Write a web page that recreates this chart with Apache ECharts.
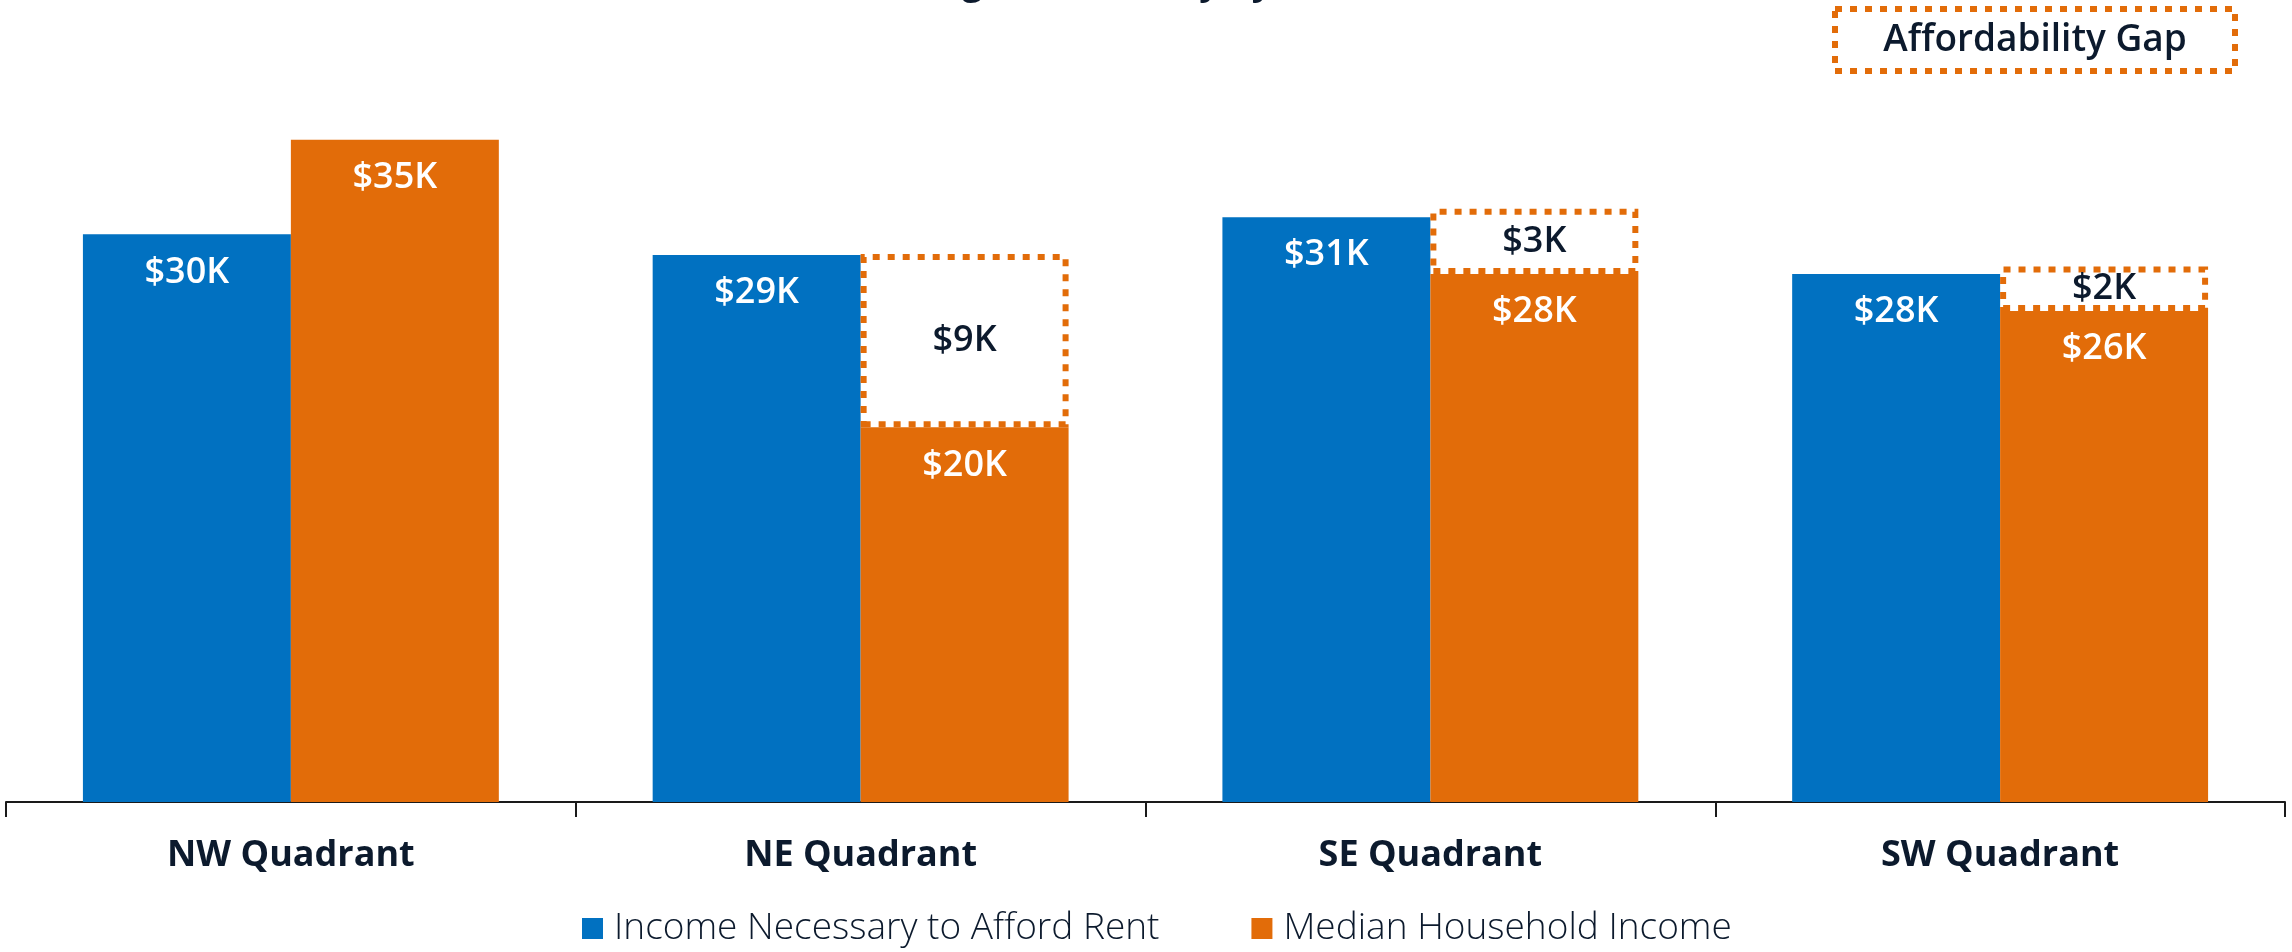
<!DOCTYPE html>
<html>
<head>
<meta charset="utf-8">
<title>Housing Affordability by Quadrant</title>
<script src="https://cdn.jsdelivr.net/npm/echarts@6/dist/echarts.min.js"></script>
<style>
  html, body { margin: 0; padding: 0; background: #fff; }
  #chart { width: 2292px; height: 952px; }
</style>
</head>
<body>
<div id="chart"></div>
<script>
'use strict';

// chart data (thousands of dollars)
var categories = ['NW Quadrant', 'NE Quadrant', 'SE Quadrant', 'SW Quadrant'];
var rentIncome = [30.0, 28.9, 30.9, 27.9];     // Income Necessary to Afford Rent
var medianIncome = [35.0, 19.8, 27.9, 25.95];  // Median Household Income
var gapValues = ['-', 9.15, 3.45, 2.35];       // Affordability Gap

var BLUE = '#0171c1';
var ORANGE = '#e26c09';
var NAVY = '#0c1a2d';
var FONT = '"Open Sans", "Noto Sans", sans-serif';

function money(p) {
    return '$' + Math.round(p.value) + 'K';
}

var chart = echarts.init(document.getElementById('chart'));

chart.setOption({
    animation: false,
    title: {
        text: 'Housing Affordability by Quadrant',
        left: 'center',
        top: -39,
        textStyle: {color: NAVY, fontFamily: FONT, fontSize: 36, fontWeight: 'bold'}
    },
    legend: {
        data: ['Income Necessary to Afford Rent', 'Median Household Income'],
        bottom: 0,
        left: 577,
        itemWidth: 21,
        itemHeight: 21,
        itemGap: 92,
        icon: 'rect',
        textStyle: {color: NAVY, fontFamily: FONT, fontSize: 37, fontWeight: 300, padding: [0, 0, 0, 6]}
    },
    grid: {left: 6, right: 7, top: 45, bottom: 150, containLabel: false},
    xAxis: {
        type: 'category',
        data: categories,
        axisLine: {lineStyle: {color: '#1a1a1a', width: 2}},
        axisTick: {show: true, length: 15, lineStyle: {color: '#1a1a1a', width: 2}},
        axisLabel: {color: NAVY, fontFamily: FONT, fontSize: 36, fontWeight: 'bold', margin: 36}
    },
    yAxis: {
        type: 'value',
        min: 0,
        max: 40,
        show: false,
        splitLine: {show: false}
    },
    graphic: [{
        type: 'group',
        left: 1832,
        top: 6,
        children: [{
            type: 'rect',
            shape: {x: 0, y: 0, width: 400, height: 62},
            style: {fill: '#fff', stroke: ORANGE, lineWidth: 6, lineDash: [7, 8]}
        }, {
            type: 'text',
            style: {
                x: 200, y: 31, text: 'Affordability Gap', align: 'center', verticalAlign: 'middle',
                fill: NAVY, font: '600 37px "Open Sans", sans-serif'
            }
        }]
    }],
    series: [{
        name: 'Income Necessary to Afford Rent',
        type: 'bar',
        data: rentIncome,
        barGap: '0%',
        barCategoryGap: '27%',
        itemStyle: {color: BLUE},
        label: {
            show: true, position: 'insideTop', distance: 20, formatter: money,
            color: '#fff', fontFamily: FONT, fontSize: 36, fontWeight: 600
        }
    }, {
        name: 'Median Household Income',
        type: 'bar',
        stack: 'income',
        data: medianIncome,
        itemStyle: {color: ORANGE},
        label: {
            show: true, position: 'insideTop', distance: 20, formatter: money,
            color: '#fff', fontFamily: FONT, fontSize: 36, fontWeight: 600
        }
    }, {
        name: 'Affordability Gap',
        type: 'bar',
        stack: 'income',
        data: gapValues,
        itemStyle: {
            color: '#fff',
            borderColor: ORANGE,
            borderWidth: 6,
            borderType: [7, 8]
        },
        label: {
            show: true, position: 'inside', formatter: money,
            color: NAVY, fontFamily: FONT, fontSize: 36, fontWeight: 600
        }
    }]
});
</script>
</body>
</html>
